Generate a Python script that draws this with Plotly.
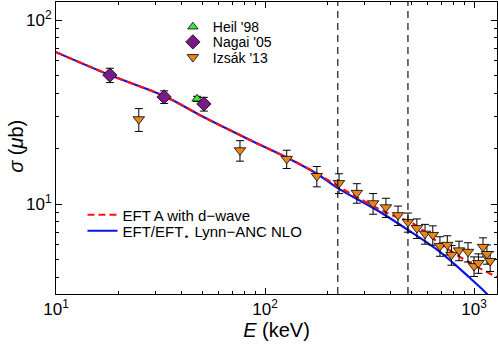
import plotly.graph_objects as go

# ---------------- data ----------------
heil_E = [47.3]
heil_s = [37.3]
heil_err = [1.2]

nagai_E = [18.1, 32.9, 51.0]
nagai_s = [50.2, 38.2, 35.0]
nagai_err = [4.5, 3.0, 3.0]

izsak_E = [24.9, 75.9, 127, 177, 226, 275, 329, 379, 433, 483, 533, 583, 635,
           687, 745, 780, 848, 936, 1000, 1050, 1104, 1153, 1195]
izsak_s = [28.9, 19.6, 17.6, 14.2, 13.0, 11.5, 10.1, 9.6, 8.7, 7.98, 7.4, 6.9, 6.79,
           5.92, 6.0, 5.3, 5.6, 5.5, 4.6, 4.78, 5.85, 5.35, 4.9]
izsak_err = [4.1, 2.5, 2.0, 1.8, 1.6, 1.4, 1.3, 1.15, 1.05, 0.95, 0.9, 0.85, 0.82,
             0.72, 0.72, 0.65, 0.68, 0.66, 0.56, 0.58, 0.7, 0.64, 0.6]

# theory curves
blue_E = [10, 18.1, 32.9, 50, 84.7, 127, 177, 223, 355, 483, 687, 957, 1167, 1300]
blue_s = [66.9, 50.2, 38.6, 30.0, 22.3, 17.9, 14.6, 12.2, 9.05, 7.23, 5.5, 3.96, 3.20, 2.75]

red_E = [10, 18.1, 32.9, 50, 84.7, 127, 177, 223, 384, 505, 703, 957, 1233, 1290]
red_s = [66.9, 50.2, 38.6, 30.0, 22.3, 17.9, 14.7, 12.5, 8.93, 7.89, 5.98, 4.78, 4.11, 4.0]

boundaries = [223, 483]

x_ticks = [10, 100, 1000]
x_ticktext = ["10<sup>1</sup>", "10<sup>2</sup>", "10<sup>3</sup>"]
x_minor = [20, 30, 40, 50, 60, 70, 80, 90, 200, 300, 400, 500, 600, 700, 800, 900]
y_ticks = [10, 100]
y_ticktext = ["10<sup>1</sup>", "10<sup>2</sup>"]
y_minor = [4, 5, 6, 7, 8, 9, 20, 30, 40, 50, 60, 70, 80, 90]

FONT = "Liberation Sans, Arial, Helvetica, sans-serif"

fig = go.Figure()

fig.add_trace(go.Scatter(
    x=blue_E, y=blue_s, mode="lines", name="EFT/EFT<sub>\u22c6</sub> Lynn\u2212ANC NLO",
    line=dict(color="#0a14e6", width=2.2), legend="legend5",
    line_shape="spline"))
fig.add_trace(go.Scatter(
    x=red_E, y=red_s, mode="lines", name="EFT A with d\u2212wave",
    line=dict(color="#ff1010", width=2.2, dash="7px,4px"), legend="legend2",
    line_shape="spline"))

err_style = dict(type="data", thickness=1, width=4, color="black")

fig.add_trace(go.Scatter(
    x=heil_E, y=heil_s, mode="markers", name="Heil '98",
    error_y=dict(array=heil_err, **err_style),
    marker=dict(symbol="triangle-up", size=9, color="#3ce63c",
                line=dict(color="black", width=0.8)), legend="legend"))
fig.add_trace(go.Scatter(
    x=nagai_E, y=nagai_s, mode="markers", name="Nagai '05",
    error_y=dict(array=nagai_err, **err_style),
    marker=dict(symbol="diamond", size=11, color="#7a1a86",
                line=dict(color="black", width=0.8)), legend="legend3"))
fig.add_trace(go.Scatter(
    x=izsak_E, y=izsak_s, mode="markers", name="Izs\u00e1k '13",
    error_y=dict(array=izsak_err, **err_style),
    marker=dict(symbol="triangle-down", size=10, color="#e8861e",
                line=dict(color="black", width=0.8)), legend="legend4"))

for b in boundaries:
    fig.add_shape(type="line", x0=b, x1=b, xref="x", y0=0, y1=1, yref="paper",
                  line=dict(color="black", width=1.1, dash="7px,5px"))

axis_common = dict(
    type="log", showline=True, linecolor="black", linewidth=1, mirror="ticks",
    ticks="inside", ticklen=6, tickcolor="black", showgrid=False, zeroline=False,
    tickmode="array", tickfont=dict(size=17, color="black", family=FONT),
    automargin=False,
)

fig.update_xaxes(
    **axis_common, range=[1, 3.110], tickvals=x_ticks, ticktext=x_ticktext,
    minor=dict(tickmode="array", tickvals=x_minor, ticks="inside", ticklen=3,
               tickcolor="black", showgrid=False),
    title=dict(text="<i>E</i> (keV)", font=dict(size=20, color="black", family=FONT),
               standoff=2),
)
fig.update_yaxes(
    **axis_common, range=[0.511, 2.098], tickvals=y_ticks, ticktext=y_ticktext,
    minor=dict(tickmode="array", tickvals=y_minor, ticks="inside", ticklen=3,
               tickcolor="black", showgrid=False),
)

fig.add_annotation(text="<i>\u03c3</i> (<i>\u03bc</i>b)", xref="paper", yref="paper",
                   x=-0.091, y=0.507, xanchor="center", yanchor="middle",
                   textangle=-90, showarrow=False,
                   font=dict(size=20, color="black", family=FONT))

def leg(x, y, size=15):
    return dict(x=x, y=y, xanchor="left", yanchor="middle",
                bgcolor="rgba(0,0,0,0)", font=dict(size=size, family=FONT),
                tracegroupgap=0, itemwidth=30)

fig.update_layout(
    width=498, height=345,
    margin=dict(l=56, r=1, t=2, b=51),
    plot_bgcolor="white", paper_bgcolor="white",
    font=dict(family=FONT, color="black"),
    legend=leg(0.265, 0.914, 14),
    legend3=leg(0.265, 0.862, 14),
    legend4=leg(0.265, 0.810, 14),
    legend2=leg(0.06, 0.2705),
    legend5=leg(0.06, 0.2158),
    showlegend=True,
)

fig.write_html("out.html", config={"displayModeBar": False},
               post_script="document.body.style.margin='0';document.body.style.overflow='hidden';")
